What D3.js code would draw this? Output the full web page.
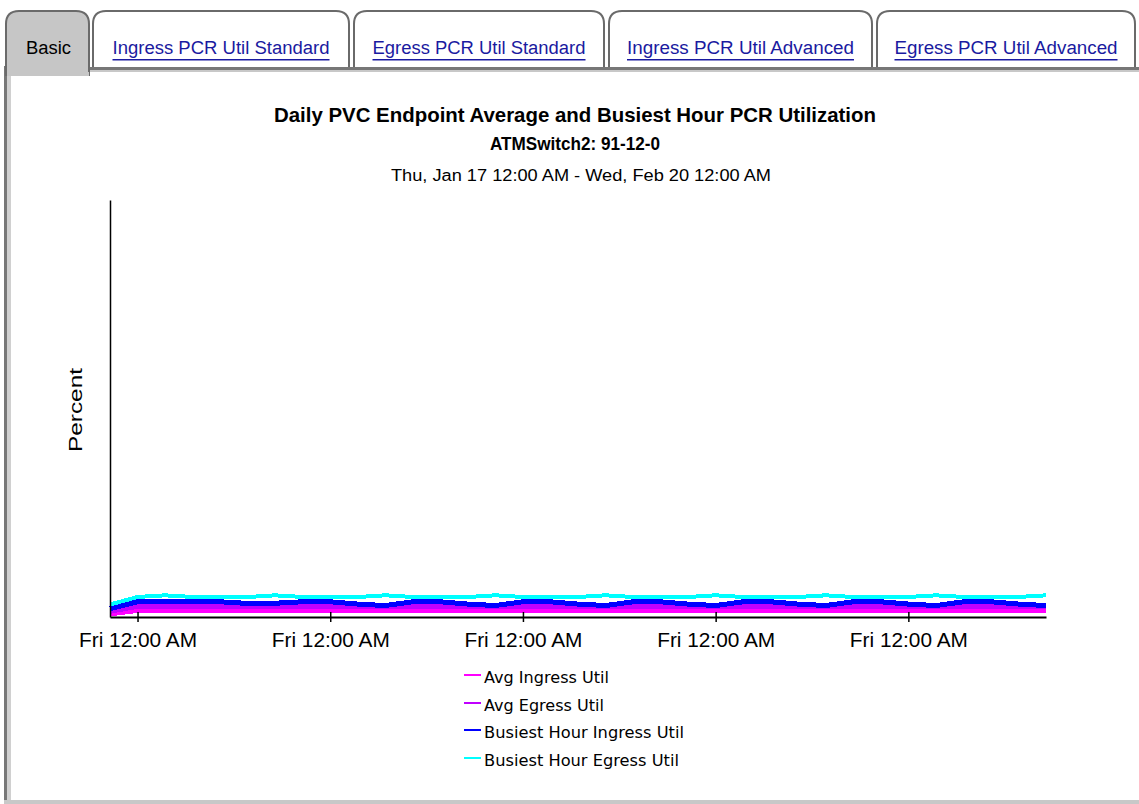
<!DOCTYPE html>
<html><head><meta charset="utf-8">
<script src="https://cdn.jsdelivr.net/npm/d3@7"></script>
<style>body{margin:0;background:#fff;} svg{display:block;}</style>
</head><body><svg id="c" width="1139" height="804"></svg>
<script>
// ---------- data ----------
const tabLabels = ["Basic", "Ingress PCR Util Standard", "Egress PCR Util Standard", "Ingress PCR Util Advanced", "Egress PCR Util Advanced"];
const titleText = "Daily PVC Endpoint Average and Busiest Hour PCR Utilization";
const subtitleText = "ATMSwitch2: 91-12-0";
const rangeText = "Thu, Jan 17 12:00 AM - Wed, Feb 20 12:00 AM";
const yLabel = "Percent";
const startDate = "2002-01-17";
const endDate = "2002-02-20";
const tickDates = ["2002-01-18", "2002-01-25", "2002-02-01", "2002-02-08", "2002-02-15"];
const seriesNames = ["Avg Ingress Util", "Avg Egress Util", "Busiest Hour Ingress Util", "Busiest Hour Egress Util"];
const seriesColors = ["#ff00ff", "#c000ff", "#0000ff", "#00ffff"];
// daily values (percent), Jan 17 .. Feb 20
const avgIngress = [0.7, 1.5, 1.5, 1.5, 1.5, 1.5, 1.5, 1.5, 1.5, 1.5, 1.5, 1.5, 1.5, 1.5, 1.5, 1.5, 1.5, 1.5, 1.5, 1.5, 1.5, 1.5, 1.5, 1.5, 1.5, 1.5, 1.5, 1.5, 1.5, 1.5, 1.5, 1.5, 1.5, 1.5, 1.5];
const avgEgress = [1.3, 2.5, 2.5, 2.5, 2.5, 2.5, 2.5, 2.5, 2.5, 2.5, 2.5, 2.5, 2.5, 2.5, 2.5, 2.5, 2.5, 2.5, 2.5, 2.5, 2.5, 2.5, 2.5, 2.5, 2.5, 2.5, 2.5, 2.5, 2.5, 2.5, 2.5, 2.5, 2.5, 2.5, 2.5];
const bhIngress = [2.0, 3.65, 3.65, 3.65, 3.65, 3.25, 3.3, 3.65, 3.65, 3.1, 2.75, 3.65, 3.65, 3.1, 2.75, 3.65, 3.65, 3.1, 2.75, 3.65, 3.65, 3.1, 2.75, 3.65, 3.65, 3.1, 2.75, 3.65, 3.65, 3.1, 2.75, 3.65, 3.65, 3.1, 2.75];
const bhEgress = [3.0, 4.8, 5.2, 4.8, 4.8, 4.8, 5.2, 4.8, 4.8, 4.8, 5.2, 4.8, 4.8, 4.8, 5.2, 4.8, 4.8, 4.8, 5.2, 4.8, 4.8, 4.8, 5.2, 4.8, 4.8, 4.8, 5.2, 4.8, 4.8, 4.8, 5.2, 4.8, 4.8, 4.8, 5.2];

// ---------- setup ----------
const svg = d3.select("#c");
const W = 1139, H = 804;
const parse = d3.timeParse("%Y-%m-%d");
const fmtTick = d3.timeFormat("%a %I:%M %p");

// panel
svg.append("rect").attr("x", 0).attr("y", 0).attr("width", W).attr("height", H).attr("fill", "#fff");
svg.append("rect").attr("x", 7).attr("y", 69).attr("width", 4).attr("height", 731).attr("fill", "#d0d0d0");
svg.append("rect").attr("x", 4).attr("y", 66).attr("width", 3).attr("height", 738).attr("fill", "#777");
svg.append("rect").attr("x", 4).attr("y", 800).attr("width", W - 4).attr("height", 4).attr("fill", "#c8c8c8");
svg.append("rect").attr("x", 88).attr("y", 67).attr("width", W - 88).attr("height", 3).attr("fill", "#777");
svg.append("rect").attr("x", 88).attr("y", 70).attr("width", W - 88).attr("height", 2).attr("fill", "#c8c8c8");

// tabs
const tabX = [5, 92, 353, 608, 876];
const tabR = [90, 350, 605, 873, 1136];
const tabTextLen = [45, 217, 213, 227, 223];
const tabPath = (x0, x1, y0, y1, r) => `M${x0},${y1} L${x0},${y0 + r} Q${x0},${y0} ${x0 + r},${y0} L${x1 - r},${y0} Q${x1},${y0} ${x1},${y0 + r} L${x1},${y1}`;
tabLabels.forEach((t, i) => {
  const sel = i === 0;
  const x0 = tabX[i] + 1, x1 = tabR[i] - 1;
  const g = svg.append("g");
  g.append("path").attr("d", tabPath(x0, x1, 11, sel ? 76 : 67, 13) + (sel ? "" : " Z"))
    .attr("fill", sel ? "#c6c6c6" : "#fff").attr("stroke", "none");
  g.append("path").attr("d", tabPath(x0, x1, 11, sel ? 76 : 67, 13))
    .attr("fill", "none").attr("stroke", "#6a6a6a").attr("stroke-width", 2);
  const cx = (tabX[i] + tabR[i]) / 2 + (sel ? 1 : 0);
  g.append("text").attr("x", cx).attr("y", 54).attr("text-anchor", "middle")
    .attr("font-family", "Liberation Sans, Arial, sans-serif").attr("font-size", 18)
    .attr("textLength", tabTextLen[i]).attr("lengthAdjust", "spacingAndGlyphs")
    .attr("fill", sel ? "#000" : "#1a1aa0").text(t);
  if (!sel) {
    g.append("rect").attr("x", cx - tabTextLen[i] / 2).attr("y", 59).attr("width", tabTextLen[i]).attr("height", 1.5).attr("fill", "#1a1aa0");
  }
});
// white cover for the left panel border under selected tab
svg.append("rect").attr("x", 11).attr("y", 72).attr("width", 78).attr("height", 4).attr("fill", "#c6c6c6");
svg.append("rect").attr("x", 11).attr("y", 76).attr("width", 1128).attr("height", 724).attr("fill", "#fff");

// titles
const cxT = 575;
svg.append("text").attr("x", cxT).attr("y", 122).attr("text-anchor", "middle")
  .attr("font-family", "Liberation Sans Narrow, Liberation Sans, Arial, sans-serif").attr("font-weight", "bold").attr("font-size", 21)
  .attr("textLength", 602).attr("lengthAdjust", "spacingAndGlyphs").text(titleText);
svg.append("text").attr("x", cxT).attr("y", 150).attr("text-anchor", "middle")
  .attr("font-family", "Liberation Sans Narrow, Liberation Sans, Arial, sans-serif").attr("font-weight", "bold").attr("font-size", 18)
  .attr("textLength", 170).attr("lengthAdjust", "spacingAndGlyphs").text(subtitleText);
svg.append("text").attr("x", cxT + 6).attr("y", 181).attr("text-anchor", "middle")
  .attr("font-family", "Liberation Sans Narrow, Liberation Sans, Arial, sans-serif").attr("font-size", 16)
  .attr("textLength", 380).attr("lengthAdjust", "spacingAndGlyphs").text(rangeText);

// scales
const x = d3.scaleTime().domain([parse(startDate), parse(endDate)]).range([110, 1046]);
const y = d3.scaleLinear().domain([0, 100]).range([617, 200]);

const days = d3.timeDay.range(parse(startDate), d3.timeDay.offset(parse(endDate), 1));
const series = [avgIngress, avgEgress, bhIngress, bhEgress];
const widths = [4.5, 4.5, 5, 4];

const line = d3.line().x((d, i) => x(days[i])).y(d => y(d));
series.forEach((s, k) => {
  svg.append("path").datum(s).attr("d", line)
    .attr("fill", "none").attr("stroke", seriesColors[k]).attr("stroke-width", widths[k])
    .attr("stroke-linejoin", "miter").attr("shape-rendering", "crispEdges");
});

// axes
const xAxis = d3.axisBottom(x).tickValues(tickDates.map(parse)).tickFormat(fmtTick).tickSizeInner(5).tickSizeOuter(0);
const gx = svg.append("g").attr("transform", "translate(0,617)").call(xAxis);
gx.select(".domain").attr("stroke", "#000").attr("stroke-width", 2);
gx.selectAll(".tick line").attr("y1", -5).attr("y2", 5).attr("stroke", "#000").attr("stroke-width", 1.5);
gx.selectAll(".tick text").attr("y", 30).attr("dy", 0)
  .attr("font-family", "Liberation Sans Narrow, Liberation Sans, Arial, sans-serif").attr("font-size", 20).attr("fill", "#000")
  .attr("textLength", 118).attr("lengthAdjust", "spacingAndGlyphs");

const yAxis = d3.axisLeft(y).tickValues([]).tickSizeOuter(0);
const gy = svg.append("g").attr("transform", "translate(110,0)").call(yAxis);
gy.select(".domain").attr("stroke", "#000").attr("stroke-width", 1.5);

svg.append("text").attr("transform", "translate(82,410) rotate(-90)").attr("text-anchor", "middle")
  .attr("font-family", "Liberation Sans, Arial, sans-serif").attr("font-size", 19)
  .attr("textLength", 84).attr("lengthAdjust", "spacingAndGlyphs").text(yLabel);

// legend
const legY = [675, 703, 730, 758];
const legLen = [125, 120, 200, 195];
seriesNames.forEach((n, i) => {
  svg.append("line").attr("x1", 464).attr("x2", 481).attr("y1", legY[i]).attr("y2", legY[i])
    .attr("stroke", seriesColors[i]).attr("stroke-width", 2);
  svg.append("text").attr("x", 484).attr("y", legY[i] + 8)
    .attr("font-family", "DejaVu Sans, Liberation Sans, sans-serif").attr("font-size", 15).attr("fill", "#000")
    .attr("textLength", legLen[i]).attr("lengthAdjust", "spacingAndGlyphs").text(n);
});
</script></body></html>
